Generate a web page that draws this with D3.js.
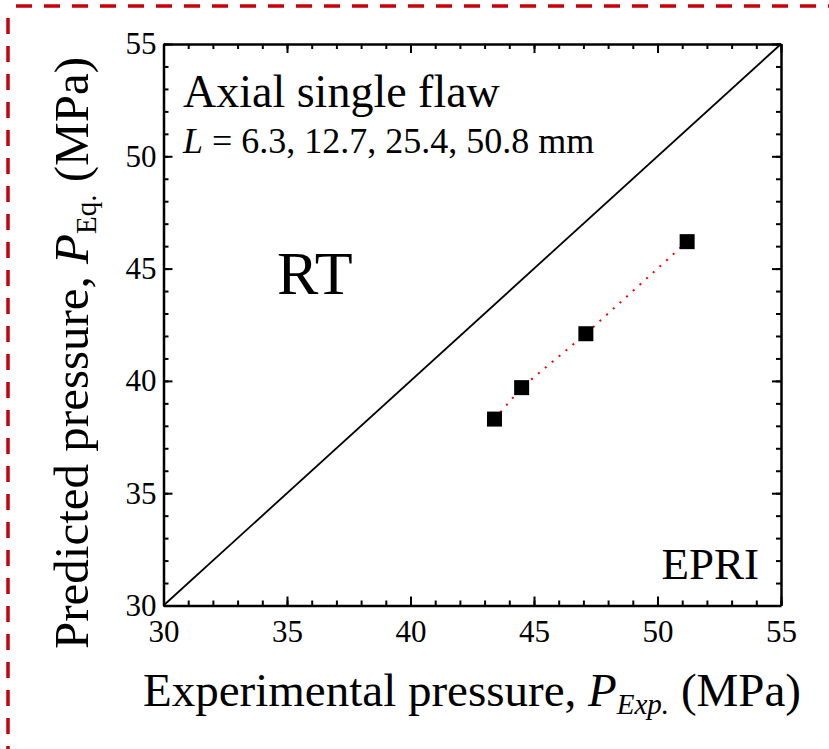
<!DOCTYPE html>
<html>
<head>
<meta charset="utf-8">
<script src="https://cdn.jsdelivr.net/npm/d3@7"></script>
<style>
  body { margin: 0; background: #fff; }
  svg text { font-family: "Liberation Serif", "Tinos", "Times New Roman", Times, "DejaVu Serif", serif; fill: #000; }
</style>
</head>
<body>
<svg id="chart"></svg>
<script>
// Datos.
const expPressure = [43.4, 44.5, 47.1, 51.2];
const predPressure = [38.3, 39.7, 42.1, 46.2];
const majorTicks = [30, 35, 40, 45, 50, 55];
const minorTicks = d3.range(30, 56, 1);
const diagonal = [30, 55];

const WIDTH = 829;
const HEIGHT = 749;
const PLOT = { left: 163.5, right: 781, top: 44, bottom: 605.5 };
const SERIF = '"Liberation Serif", "Tinos", "Times New Roman", Times, "DejaVu Serif", serif';

const svg = d3.select('svg#chart')
              .attr('width', WIDTH)
              .attr('height', HEIGHT)
              .attr('font-family', SERIF);

// Borde rojo punteado.
const border = svg.append('g')
                  .attr('stroke', '#c8000a')
                  .attr('stroke-width', 3.5)
                  .attr('stroke-dasharray', '16,12');
border.append('line').attr('x1', 16).attr('x2', WIDTH).attr('y1', 6).attr('y2', 6);
border.append('line').attr('x1', 8).attr('x2', 8).attr('y1', 18).attr('y2', HEIGHT);

const x = d3.scaleLinear().domain([30, 55]).range([PLOT.left, PLOT.right]);
const y = d3.scaleLinear().domain([30, 55]).range([PLOT.bottom, PLOT.top]);

// Ejes con ticks hacia adentro.
const drawAxis = (axisFn, scale, transform, padding) => {
    const minor = svg.append('g').attr('transform', transform)
        .call(axisFn(scale).tickValues(minorTicks).tickFormat('').tickSize(-5).tickSizeOuter(0));
    minor.select('.domain').remove();
    minor.selectAll('line').attr('stroke-width', 2);

    const major = svg.append('g').attr('transform', transform)
        .call(axisFn(scale).tickValues(majorTicks).tickSize(-9).tickSizeOuter(0)
              .tickPadding(padding || 0)
              .tickFormat(padding ? d3.format('d') : ''))
        .attr('font-family', SERIF)
        .attr('font-size', 31);
    major.select('.domain').attr('stroke-width', 2.5);
    major.selectAll('line').attr('stroke-width', 2);
    return major;
};

drawAxis(d3.axisBottom, x, `translate(0, ${PLOT.bottom})`, 14);
drawAxis(d3.axisTop, x, `translate(0, ${PLOT.top})`, 0);
drawAxis(d3.axisLeft, y, `translate(${PLOT.left}, 0)`, 7);
drawAxis(d3.axisRight, y, `translate(${PLOT.right}, 0)`, 0);

// Linea 1:1.
svg.append('line')
   .attr('x1', x(diagonal[0])).attr('y1', y(diagonal[0]))
   .attr('x2', x(diagonal[1])).attr('y2', y(diagonal[1]))
   .attr('stroke', '#000')
   .attr('stroke-width', 1.8);

// Serie.
const points = expPressure.map((d, i) => [d, predPressure[i]]);

svg.append('path')
   .datum(points)
   .attr('fill', 'none')
   .attr('stroke', '#ff0000')
   .attr('stroke-width', 2)
   .attr('stroke-dasharray', '2,7')
   .attr('d', d3.line().x(d => x(d[0])).y(d => y(d[1])));

svg.selectAll('rect.pt')
   .data(points)
   .join('rect')
   .attr('class', 'pt')
   .attr('x', d => x(d[0]) - 7.5)
   .attr('y', d => y(d[1]) - 7.5)
   .attr('width', 15)
   .attr('height', 15)
   .attr('fill', '#000');

// Textos.
svg.append('text')
   .attr('x', 183).attr('y', 107)
   .style('font-size', '46px')
   .text('Axial single flaw');

const lineL = svg.append('text')
   .attr('x', 183).attr('y', 153)
   .style('font-size', '36px');
lineL.append('tspan').style('font-style', 'italic').text('L');
lineL.append('tspan').text(' = 6.3, 12.7, 25.4, 50.8 mm');

svg.append('text')
   .attr('x', 277).attr('y', 294)
   .style('font-size', '62px')
   .text('RT');

svg.append('text')
   .attr('x', 759).attr('y', 579)
   .attr('text-anchor', 'end')
   .style('font-size', '45px')
   .text('EPRI');

// Titulos de ejes.
const xTitle = svg.append('text')
   .attr('x', 472).attr('y', 706)
   .attr('text-anchor', 'middle')
   .style('font-size', '47px');
xTitle.append('tspan').text('Experimental pressure, ');
xTitle.append('tspan').style('font-style', 'italic').text('P');
xTitle.append('tspan').style('font-style', 'italic').style('font-size', '29px').attr('dy', 8).text('Exp.');
xTitle.append('tspan').attr('dy', -8).text(' (MPa)');

const yTitle = svg.append('text')
   .attr('transform', 'translate(88, 353) rotate(-90)')
   .attr('text-anchor', 'middle')
   .style('font-size', '49px');
yTitle.append('tspan').text('Predicted pressure, ');
yTitle.append('tspan').style('font-style', 'italic').text('P');
yTitle.append('tspan').style('font-size', '29px').attr('dy', 8).text('Eq.');
yTitle.append('tspan').attr('dy', -8).text('  (MPa)');
</script>
</body>
</html>
